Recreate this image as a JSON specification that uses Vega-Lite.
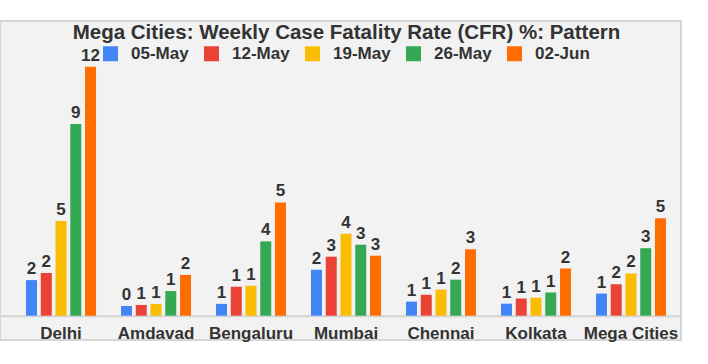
{
  "$schema": "https://vega.github.io/schema/vega-lite/v6.json",
  "width": 681,
  "height": 319,
  "autosize": {"type": "none"},
  "padding": {"left": 0, "top": 21, "right": 27, "bottom": 24},
  "background": "white",
  "title": {
    "text": "Mega Cities: Weekly Case Fatality Rate (CFR) %: Pattern",
    "font": "Liberation Sans",
    "fontSize": 20.5,
    "fontWeight": "bold",
    "color": "#333333",
    "anchor": "middle",
    "baseline": "alphabetic",
    "offset": -18.5,
    "dy": 20,
    "dx": 6
  },
  "data": {
    "values": [
      {"city": "Delhi", "week": "05-May", "cfr": 1.72},
      {"city": "Delhi", "week": "12-May", "cfr": 2.06},
      {"city": "Delhi", "week": "19-May", "cfr": 4.57},
      {"city": "Delhi", "week": "26-May", "cfr": 9.26},
      {"city": "Delhi", "week": "02-Jun", "cfr": 12.03},
      {"city": "Amdavad", "week": "05-May", "cfr": 0.47},
      {"city": "Amdavad", "week": "12-May", "cfr": 0.52},
      {"city": "Amdavad", "week": "19-May", "cfr": 0.57},
      {"city": "Amdavad", "week": "26-May", "cfr": 1.19},
      {"city": "Amdavad", "week": "02-Jun", "cfr": 1.97},
      {"city": "Bengaluru", "week": "05-May", "cfr": 0.57},
      {"city": "Bengaluru", "week": "12-May", "cfr": 1.4},
      {"city": "Bengaluru", "week": "19-May", "cfr": 1.45},
      {"city": "Bengaluru", "week": "26-May", "cfr": 3.59},
      {"city": "Bengaluru", "week": "02-Jun", "cfr": 5.47},
      {"city": "Mumbai", "week": "05-May", "cfr": 2.22},
      {"city": "Mumbai", "week": "12-May", "cfr": 2.85},
      {"city": "Mumbai", "week": "19-May", "cfr": 3.96},
      {"city": "Mumbai", "week": "26-May", "cfr": 3.43},
      {"city": "Mumbai", "week": "02-Jun", "cfr": 2.9},
      {"city": "Chennai", "week": "05-May", "cfr": 0.68},
      {"city": "Chennai", "week": "12-May", "cfr": 1.01},
      {"city": "Chennai", "week": "19-May", "cfr": 1.26},
      {"city": "Chennai", "week": "26-May", "cfr": 1.74},
      {"city": "Chennai", "week": "02-Jun", "cfr": 3.21},
      {"city": "Kolkata", "week": "05-May", "cfr": 0.58},
      {"city": "Kolkata", "week": "12-May", "cfr": 0.83},
      {"city": "Kolkata", "week": "19-May", "cfr": 0.87},
      {"city": "Kolkata", "week": "26-May", "cfr": 1.12},
      {"city": "Kolkata", "week": "02-Jun", "cfr": 2.28},
      {"city": "Mega Cities", "week": "05-May", "cfr": 1.07},
      {"city": "Mega Cities", "week": "12-May", "cfr": 1.52},
      {"city": "Mega Cities", "week": "19-May", "cfr": 2.04},
      {"city": "Mega Cities", "week": "26-May", "cfr": 3.26},
      {"city": "Mega Cities", "week": "02-Jun", "cfr": 4.71}
    ]
  },
  "encoding": {
    "x": {
      "field": "city",
      "type": "nominal",
      "sort": ["Delhi", "Amdavad", "Bengaluru", "Mumbai", "Chennai", "Kolkata", "Mega Cities"],
      "scale": {"paddingInner": 0.263, "paddingOuter": 0.216, "align": 0.634},
      "axis": {
        "title": null,
        "labelAngle": 0,
        "offset": -24.3,
        "ticks": false,
        "tickSize": 0,
        "labelPadding": 10,
        "labelFont": "Liberation Sans",
        "labelFontSize": 17,
        "labelFontWeight": "bold",
        "labelColor": "#333333",
        "domainColor": "#d4d4d4",
        "domainWidth": 2,
        "grid": false
      }
    },
    "xOffset": {
      "field": "week",
      "type": "nominal",
      "sort": ["05-May", "12-May", "19-May", "26-May", "02-Jun"],
      "scale": {"paddingInner": 0.254, "paddingOuter": 0}
    },
    "y": {
      "field": "cfr",
      "type": "quantitative",
      "scale": {"domain": [-1.174, 14.237], "nice": false, "zero": false},
      "axis": null
    }
  },
  "layer": [
    {
      "mark": {"type": "bar"},
      "encoding": {
        "y2": {"datum": 0},
        "color": {
          "field": "week",
          "type": "nominal",
          "sort": ["05-May", "12-May", "19-May", "26-May", "02-Jun"],
          "scale": {
            "domain": ["05-May", "12-May", "19-May", "26-May", "02-Jun"],
            "range": ["#4285F4", "#EA4335", "#FBBC04", "#34A853", "#FF6D01"]
          },
          "legend": {
            "title": null,
            "orient": "none",
            "legendX": 102,
            "legendY": 24,
            "direction": "horizontal",
            "symbolType": "square",
            "symbolSize": 225,
            "symbolStrokeWidth": 0,
            "labelFont": "Liberation Sans",
            "labelFontSize": 17,
            "labelFontWeight": "bold",
            "labelColor": "#333333",
            "labelOffset": 12,
            "columnPadding": 14
          }
        }
      }
    },
    {
      "mark": {
        "type": "text",
        "baseline": "alphabetic",
        "dy": -6,
        "font": "Liberation Sans",
        "fontSize": 17,
        "fontWeight": "bold",
        "color": "#333333"
      },
      "encoding": {
        "text": {"field": "cfr", "type": "quantitative", "format": ".0f"}
      }
    }
  ],
  "config": {
    "view": {"fill": "#f2f2f2", "stroke": "#d6d6d6", "strokeWidth": 2}
  }
}
